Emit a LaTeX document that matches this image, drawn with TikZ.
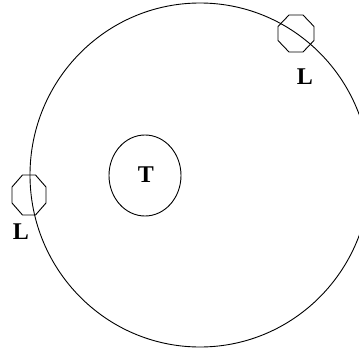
\documentclass[tikz,border=0pt]{standalone}
\usepackage{fontspec}
\setmainfont{Liberation Serif}
\begin{document}
\begin{tikzpicture}[x=1pt,y=-1pt,
  ln/.style={line width=0.9pt,black},
  lbl/.style={font=\fontsize{24}{26}\selectfont\bfseries,inner sep=0pt}]
\useasboundingbox (0,0) rectangle (359,353);
\begin{scope}
\clip (0,0) rectangle (359,353);
\draw[ln] (200,175) ellipse [x radius=170, y radius=172];
\end{scope}
\draw[ln] (145,175.5) ellipse [x radius=36, y radius=40.5];
\node[lbl] (T) at (146,175) {T};
% left octagon
\draw[ln] (29,195) +(-6.5,-20) -- +(6.5,-20) -- +(17,-8) -- +(17,8) -- +(6.5,20) -- +(-6.5,20) -- +(-17,8) -- +(-17,-8) -- cycle;
\node[lbl] (L1) at (21,232) {L};
% top right octagon
\draw[ln] (296,33.5) +(-7,-18.5) -- +(7,-18.5) -- +(18,-7) -- +(18,7) -- +(7,18.5) -- +(-7,18.5) -- +(-18,7) -- +(-18,-7) -- cycle;
\node[lbl] (L2) at (305,77) {L};
\end{tikzpicture}
\end{document}
